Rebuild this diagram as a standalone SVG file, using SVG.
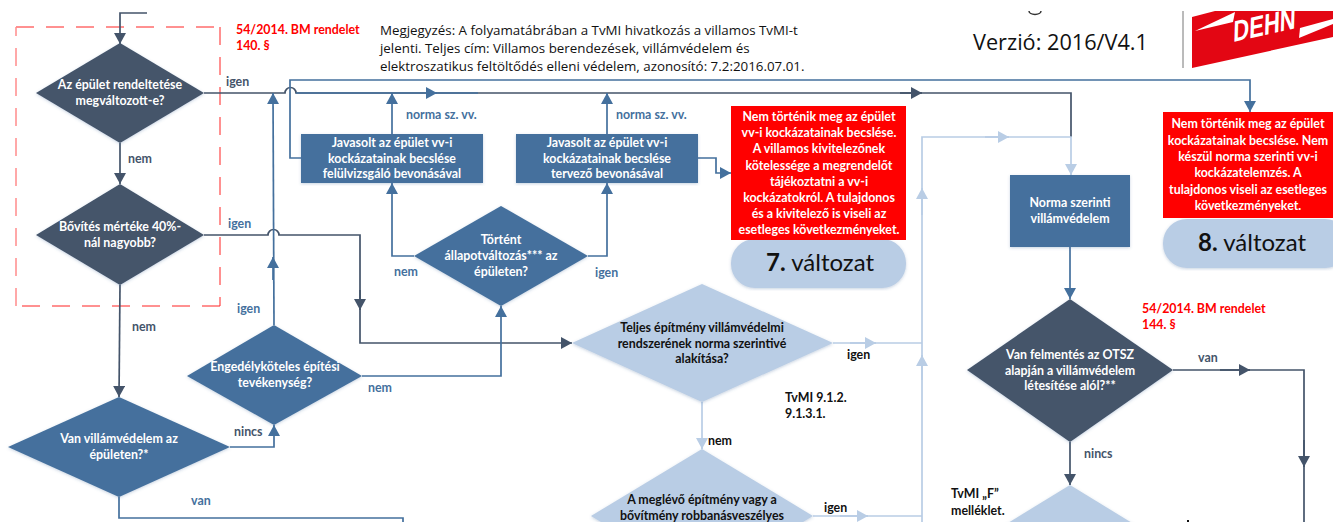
<svg xmlns="http://www.w3.org/2000/svg" width="1333" height="522" viewBox="0 0 1333 522">
<style>
text{font-family:Lato,"Open Sans","Liberation Sans",sans-serif;font-weight:700;font-size:12.4px}
.c{text-anchor:middle}
.w{fill:#fff}
.k{fill:#111}
.d{fill:#44546a}
.b{fill:#44709d}
.r{fill:#f00}
.note{font-family:"Open Sans",Lato,sans-serif;font-weight:400;font-size:13.35px;fill:#111}
.big{font-size:24px;font-weight:400;fill:#111}
.big tspan{font-weight:700}
.fd{fill:#44546a;filter:url(#s)}
.fb{fill:#44709d;filter:url(#s)}
.fl{fill:#b9cde5;filter:url(#s)}
.fr{fill:#f00}
.ld,.lb,.ll{fill:none;stroke-width:1.7}
.ld{stroke:#44546a}
.lb{stroke:#44709d}
.ll{stroke:#b9cde5}
.ad{marker-end:url(#ad)}
.ab{marker-end:url(#ab)}
.al{marker-end:url(#al)}
</style>
<defs>
<filter id="s" x="-5%" y="-5%" width="110%" height="110%"><feDropShadow dx="0" dy="1" stdDeviation="1.5" flood-color="#44709d" flood-opacity=".3"/></filter>
<marker id="ad" markerUnits="userSpaceOnUse" markerWidth="12" markerHeight="12" refX="11" refY="6" orient="auto"><path d="M0 0L11 6L0 12Z" fill="#44546a"/></marker>
<marker id="ab" markerUnits="userSpaceOnUse" markerWidth="12" markerHeight="12" refX="11" refY="6" orient="auto"><path d="M0 0L11 6L0 12Z" fill="#44709d"/></marker>
<marker id="al" markerUnits="userSpaceOnUse" markerWidth="12" markerHeight="12" refX="11" refY="6" orient="auto"><path d="M0 0L11 6L0 12Z" fill="#b9cde5"/></marker>
<clipPath id="logo"><rect x="1184" y="11" width="149" height="60"/></clipPath>
</defs>
<rect width="1333" height="522" fill="#fff"/>

<g id="frame" fill="none">
<path d="M16 27H220M220 27V306M220 306H16" stroke="#f22" stroke-width="1" stroke-dasharray="18 12"/>
<path d="M16 306V27" stroke="#ff8c8c" stroke-width="1.5" stroke-dasharray="18 12"/>
</g>

<g id="connectors">
<path class="ld ad" d="M147 13H120V44"/>
<path class="ld ad" d="M120 143V184"/>
<path class="ld ad" d="M120 285L119 397"/>
<path class="ld" d="M204 93H285A5.500 5.500 0 0 1 296 93H1071V137"/>
<path class="lb" d="M296 93H478"/>
<path class="lb ab" d="M426 93H437"/>
<path class="ld ad" d="M900 93H922"/>
<path class="ld ad" d="M204 235H268A5.500 5.500 0 0 1 279 235H360V343H572"/>
<path class="ld ad" d="M360 290V310"/>
<path class="lb ab" d="M274 325L273 93"/>
<path class="lb ab" d="M273 280V257"/>
<path class="lb ab" d="M230 447H274V425"/>
<path class="lb ab" d="M362 376H501V306"/>
<path class="lb" d="M119 497V518H403V522"/>
<path class="lb ab" d="M301 158H290V80H1250V112"/>
<path class="lb ab" d="M392 134V93"/>
<path class="lb ab" d="M607 134V93"/>
<path class="lb ab" d="M414 256H392V183"/>
<path class="lb ab" d="M588 256H607V183"/>
<path class="lb ab" d="M698 158H716V173H731"/>
<path class="ll al" d="M922 522V137H1071V175"/>
<path class="ll al" d="M985 137H1009"/>
<path class="ll al" d="M922 215V188"/>
<path class="ll al" d="M922 380V355"/>
<path class="ll" d="M833 343H922"/>
<path class="ll al" d="M850 343H876"/>
<path class="ll" d="M813 516H922"/>
<path class="ll al" d="M840 516H868"/>
<path class="ll al" d="M702 402V449"/>
<path class="lb ab" d="M1070 247V299"/>
<path class="ld ad" d="M1070 442V485"/>
<path class="ld" d="M1173 370H1304V522"/>
<path class="ld ad" d="M1220 370H1250"/>
<path class="ld ad" d="M1304 440V467"/>
</g>

<g id="n-rendeltetes"><polygon class="fd" points="120,43 204,93 120,143 36,93"/><text class="c w" x="120" y="89">Az épület rendeltetése</text><text class="c w" x="120" y="105">megváltozott-e?</text></g>
<g id="n-bovites"><polygon class="fd" points="120,184 204,235 120,285 36,235"/><text class="c w" x="120" y="231">Bővítés mértéke 40%-</text><text class="c w" x="120" y="247">nál nagyobb?</text></g>
<g id="n-villamvedelem"><polygon class="fb" points="119,397 230,447 119,497 8,447"/><text class="c w" x="119" y="443">Van villámvédelem az</text><text class="c w" x="119" y="459">épületen?*</text></g>
<g id="n-engedely"><polygon class="fb" points="274,325 362,376 274,425 187,376"/><text class="c w" x="275" y="371">Engedélyköteles építési</text><text class="c w" x="275" y="387">tevékenység?</text></g>
<g id="n-allapot"><polygon class="fb" points="501,206 588,256 501,306 414,256"/><text class="c w" x="501" y="244">Történt</text><text class="c w" x="501" y="260">állapotváltozás*** az</text><text class="c w" x="501" y="276">épületen?</text></g>
<g id="n-javasolt1"><rect class="fb" x="301" y="134" width="182" height="49"/><text class="c w" x="392" y="147">Javasolt az épület vv-i</text><text class="c w" x="392" y="163">kockázatainak becslése</text><text class="c w" x="392" y="178">felülvizsgáló bevonásával</text></g>
<g id="n-javasolt2"><rect class="fb" x="516" y="134" width="182" height="49"/><text class="c w" x="607" y="147">Javasolt az épület vv-i</text><text class="c w" x="607" y="163">kockázatainak becslése</text><text class="c w" x="607" y="178">tervező bevonásával</text></g>
<g id="n-valtozat7">
<rect class="fl" x="731" y="239" width="175" height="49" rx="24" ry="24"/>
<rect class="fr" x="731" y="106" width="175" height="134"/>
<text class="c w" x="819" y="121">Nem történik meg az épület</text><text class="c w" x="819" y="137">vv-i kockázatainak becslése.</text><text class="c w" x="819" y="153">A villamos kivitelezőnek</text><text class="c w" x="819" y="170">kötelessége a megrendelőt</text><text class="c w" x="819" y="186">tájékoztatni a vv-i</text><text class="c w" x="819" y="202">kockázatokról. A tulajdonos</text><text class="c w" x="819" y="218">és a kivitelező is viseli az</text><text class="c w" x="819" y="234">esetleges következményeket.</text>
<text class="big" x="766" y="271"><tspan>7.</tspan> változat</text></g>
<g id="n-valtozat8">
<rect class="fl" x="1163" y="219" width="186" height="49" rx="24" ry="24"/>
<rect class="fr" x="1163" y="112" width="170" height="106"/>
<text class="c w" x="1248" y="128">Nem történik meg az épület</text><text class="c w" x="1248" y="145">kockázatainak becslése. Nem</text><text class="c w" x="1248" y="161">készül norma szerinti vv-i</text><text class="c w" x="1248" y="177">kockázatelemzés. A</text><text class="c w" x="1248" y="194">tulajdonos viseli az esetleges</text><text class="c w" x="1248" y="210">következményeket.</text>
<text class="big" x="1198" y="251"><tspan>8.</tspan> változat</text></g>
<g id="n-norma"><rect class="fb" x="1010" y="175" width="120" height="72"/><text class="c w" x="1070" y="207">Norma szerinti</text><text class="c w" x="1070" y="223">villámvédelem</text></g>
<g id="n-teljes"><polygon class="fl" points="702,284 833,343 702,402 572,343"/><text class="c k" x="702" y="332">Teljes építmény villámvédelmi</text><text class="c k" x="702" y="348">rendszerének norma szerintivé</text><text class="c k" x="702" y="363">alakítása?</text></g>
<g id="n-robbanas"><polygon class="fl" points="702,449 813,516 702,583 591,516"/><text class="c k" x="702" y="504">A meglévő építmény vagy a</text><text class="c k" x="702" y="520">bővítmény robbanásveszélyes</text></g>
<g id="n-felmentes"><polygon class="fd" points="1070,299 1173,370 1070,442 967,370"/><text class="c w" x="1070" y="359">Van felmentés az OTSZ</text><text class="c w" x="1070" y="375">alapján a villámvédelem</text><text class="c w" x="1070" y="390">létesítése alól?**</text></g>
<g id="n-melleklet"><polygon class="fl" points="1070,485 1173,548 1070,611 967,548"/></g>

<g id="labels">
<text class="d" x="226" y="86">igen</text>
<text class="d" x="128" y="163">nem</text>
<text class="b" x="228" y="228">igen</text>
<text class="d" x="132" y="331">nem</text>
<text class="b" x="237" y="313">igen</text>
<text class="b" x="368" y="392">nem</text>
<text class="d" x="234" y="436">nincs</text>
<text class="b" x="191" y="505">van</text>
<text class="b" x="406" y="119">norma sz. vv.</text>
<text class="b" x="616" y="119">norma sz. vv.</text>
<text class="b" x="394" y="276">nem</text>
<text class="b" x="595" y="277">igen</text>
<text class="k" x="847" y="359">igen</text>
<text class="k" x="785" y="402">TvMI 9.1.2.</text>
<text class="k" x="785" y="418">9.1.3.1.</text>
<text class="k" x="708" y="445">nem</text>
<text class="k" x="824" y="512">igen</text>
<text class="d" x="1198" y="362">van</text>
<text class="d" x="1084" y="458">nincs</text>
<text class="k" x="951" y="498">TvMI „F”</text>
<text class="k" x="951" y="515">melléklet.</text>
<text class="r" x="236" y="34">54/2014. BM rendelet</text>
<text class="r" x="236" y="50">140. §</text>
<text class="r" x="1142" y="313">54/2014. BM rendelet</text>
<text class="r" x="1142" y="329">144. §</text>
<text class="note" x="380" y="35">Megjegyzés: A folyamatábrában a TvMI hivatkozás a villamos TvMI-t</text>
<text class="note" x="380" y="53">jelenti. Teljes cím: Villamos berendezések, villámvédelem és</text>
<text class="note" x="380" y="71">elektroszatikus feltöltődés elleni védelem, azonosító: 7.2:2016.07.01.</text>
<text x="973" y="50" style="font-family:'Open Sans',Lato,sans-serif;font-weight:400;font-size:21.7px;fill:#111">Verzió: 2016/V4.1</text>
</g>

<g id="header">
<path d="M1029 11a6 3.500 0 0 0 12 0" fill="none" stroke="#333" stroke-width="1.500"/>
<path d="M1183 11V68" stroke="#777" stroke-width="1"/>
<g clip-path="url(#logo)">
<polygon points="1192,17 1215,11 1333,11 1333,37 1192,68" fill="#e30613"/>
<polygon points="1195,31 1235,12 1233,22" fill="#fff"/>
<polygon points="1300,28 1333,19 1333,24 1299,38" fill="#fff"/>
<text transform="translate(1233 42) rotate(-12.300) skewX(-14)" textLength="64" lengthAdjust="spacingAndGlyphs" style="font-family:'Liberation Sans',sans-serif;font-weight:700;font-size:29px;fill:#fff">DEHN</text>
</g>
</g>
<rect x="1187" y="520" width="2" height="2" fill="#111"/>
</svg>
